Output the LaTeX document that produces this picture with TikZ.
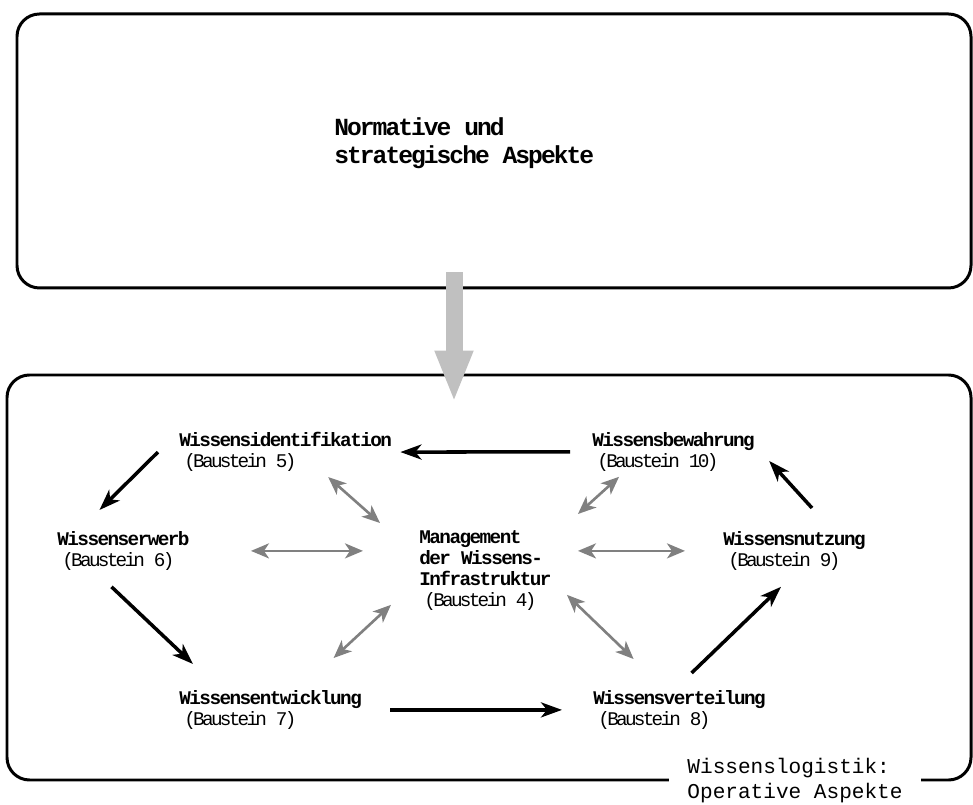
\documentclass[tikz,border=0pt]{standalone}
\usepackage{fontspec}
\setmonofont{Liberation Mono}
\newfontfamily\ttlfont[LetterSpace=-8]{Liberation Mono}
\newfontfamily\bstfont[LetterSpace=-14]{Liberation Mono}
\usetikzlibrary{arrows.meta,positioning}
\definecolor{linkgray}{RGB}{128,128,128}
\definecolor{shaftgray}{RGB}{192,192,192}
\tikzset{
  sframe/.style={draw, line width=1.7pt, rounded corners=0.45cm},
  sblock/.style={anchor=north west, inner sep=0pt, align=left,
                 font=\ttlfont\bfseries\fontsize{11}{12}\selectfont},
  sflow/.style={line width=2pt,
                -{Stealth[length=0.42cm, width=0.3cm, inset=0.12cm]}},
  slink/.style={linkgray, line width=1.5pt,
                {Stealth[length=0.36cm, width=0.3cm, inset=0.1cm]}-%
                {Stealth[length=0.36cm, width=0.3cm, inset=0.1cm]}},
  sbig/.style={shaftgray, line width=0.34cm,
               -{Triangle[length=1.04cm, width=0.7cm]}},
}
\newcommand{\baustein}[1]{\hspace*{0.1cm}{\bstfont\mdseries
  \fontsize{11}{12}\selectfont(Baustein #1)}}

\begin{document}
\begin{tikzpicture}
  \useasboundingbox (0,0) rectangle (19.46,16.08);
  % the two frames
  \node[sframe, minimum width=19.08cm, minimum height=5.48cm] (strat)
        at (9.88,13.06) {};
  \node[sframe, minimum width=19.28cm, minimum height=8.1cm] (ops)
        at (9.78,4.53) {};
  \node[anchor=north west, inner sep=0pt, align=left,
        font=\ttlfont\bfseries\fontsize{14}{16}\selectfont] (stratlabel)
        at (6.68,13.74) {Normative und\\strategische Aspekte};
  \node[fill=white, inner xsep=0.36cm, inner ysep=0pt, align=left,
        font=\ttfamily\fontsize{12}{14.2}\selectfont] (opslabel)
        at (15.9,0.46) {Wissenslogistik:\\Operative Aspekte};
  % building blocks
  \node[sblock] (ident)  at (3.58,7.44)  {Wissensidentifikation\\\baustein{5}};
  \node[sblock] (bewahr) at (11.84,7.44) {Wissensbewahrung\\\baustein{10}};
  \node[sblock] (erwerb) at (1.14,5.46)  {Wissenserwerb\\\baustein{6}};
  \node[sblock] (nutz)   at (14.46,5.46) {Wissensnutzung\\\baustein{9}};
  \node[sblock] (mgmt)   at (8.38,5.48)
        {Management\\der Wissens-\\Infrastruktur\\\baustein{4}};
  \node[sblock] (entw)   at (3.58,2.28)  {Wissensentwicklung\\\baustein{7}};
  \node[sblock] (vert)   at (11.86,2.28) {Wissensverteilung\\\baustein{8}};
  % strategy feeds operations
  \draw[sbig] ([xshift=-0.8cm,yshift=0.34cm]strat.south)
        -- ([xshift=-0.7cm,yshift=-0.58cm]ops.north);
  % the cycle
  \draw[sflow, shorten <=0.44cm] (bewahr.west) -- ([xshift=0.16cm]ident.east);
  \draw[sflow] ([xshift=-0.42cm]ident.west)
        -- ([xshift=-0.48cm,yshift=0.42cm]erwerb.north);
  \draw[sflow] ([xshift=-0.24cm,yshift=-0.32cm]erwerb.south)
        -- ([xshift=0.28cm,yshift=0.52cm]entw.north west);
  \draw[sflow, shorten <=0.56cm, shorten >=0.62cm] (entw.east) -- (vert.west);
  \draw[sflow] ([xshift=0.24cm,yshift=0.34cm]vert.north)
        -- ([xshift=-0.27cm,yshift=-0.32cm]nutz.south);
  \draw[sflow] ([xshift=0.35cm,yshift=0.46cm]nutz.north)
        -- ([xshift=0.28cm,yshift=-0.18cm]bewahr.east);
  % links to the infrastructure
  \draw[slink] ([xshift=0.85cm,yshift=-0.1cm]ident.south)
        -- ([xshift=-0.78cm,yshift=0.14cm]mgmt.north west);
  \draw[slink, shorten <=1.22cm, shorten >=1.12cm]
        (erwerb.east) -- (erwerb.east -| mgmt.west);
  \draw[slink] ([xshift=1.26cm,yshift=0.64cm]entw.north)
        -- ([xshift=-0.56cm,yshift=0.12cm]mgmt.south west);
  \draw[slink] ([xshift=-1.09cm,yshift=-0.1cm]bewahr.south)
        -- ([xshift=0.52cm,yshift=0.32cm]mgmt.north east);
  \draw[slink, shorten <=0.52cm, shorten >=0.76cm]
        (mgmt.east |- nutz.west) -- (nutz.west);
  \draw[slink] ([xshift=0.3cm,yshift=0.32cm]mgmt.south east)
        -- ([xshift=-0.92cm,yshift=0.62cm]vert.north);
\end{tikzpicture}
\end{document}
